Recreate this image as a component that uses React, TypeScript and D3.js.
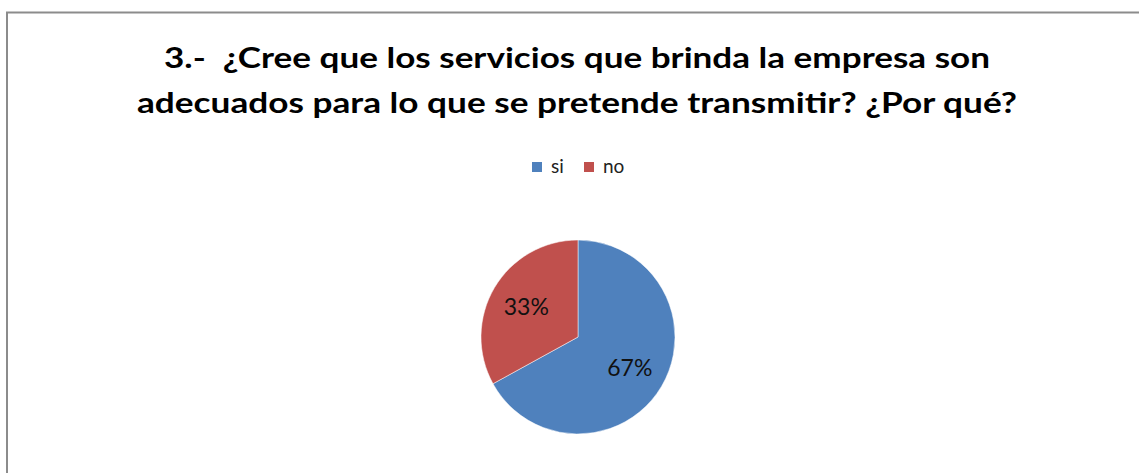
import React from "react";
import * as d3 from "d3";

// chart data
const categories = ["si", "no"];
const values = [67, 33];
const colors = ["#4F81BD", "#C0504D"];
const titleLines = [
  "3.-\u00a0 ¿Cree que los servicios que brinda la empresa son",
  "adecuados para lo que se pretende transmitir? ¿Por qué?",
];

const width = 1139;
const height = 473;

const App = () => {
  const cx = 578;
  const cy = 337;
  const radius = 97;

  const pie = d3.pie<number>().sort(null).value((d) => d);
  const arcs = pie(values);
  const arc = d3.arc<d3.PieArcDatum<number>>().innerRadius(0).outerRadius(radius);
  const labelArc = d3
    .arc<d3.PieArcDatum<number>>()
    .innerRadius(radius * 1.24)
    .outerRadius(0);

  // legend layout
  const legendX = d3.scaleOrdinal<string, number>().domain(categories).range([532, 584]);

  return (
    <svg
      width={width}
      height={height}
      style={{ position: "absolute", left: 0, top: 0, fontFamily: "Lato, 'Open Sans', sans-serif" }}
    >
      <rect width={width} height={height} fill="#fff" />
      <path d={`M7,${height} V12.5 H${width}`} fill="none" stroke="#8c8c8c" strokeWidth={2} />

      {titleLines.map((t, i) => (
        <text
          key={i}
          x={577}
          y={68 + i * 45}
          textAnchor="middle"
          fontSize={29}
          fontWeight="bold"
          fill="#000"
          textLength={i === 0 ? 826 : 880}
          lengthAdjust="spacingAndGlyphs"
        >
          {t}
        </text>
      ))}

      {categories.map((c, i) => (
        <g key={c} transform={`translate(${legendX(c)},162)`}>
          <rect width={10} height={10} fill={colors[i]} />
          <text x={19} y={11} fontSize={19} fill="#222">
            {c}
          </text>
        </g>
      ))}

      <g transform={`translate(${cx},${cy})`}>
        {arcs.map((a, i) => (
          <path key={i} d={arc(a) ?? ""} fill={colors[i]} stroke="#fff" strokeWidth={0.5} />
        ))}
        {arcs.map((a, i) => {
          const [lx, ly] = labelArc.centroid(a);
          return (
            <text
              key={i}
              x={lx}
              y={ly}
              dy="0.38em"
              textAnchor="middle"
              fontSize={23}
              fill="#111"
            >
              {values[i]}%
            </text>
          );
        })}
      </g>
    </svg>
  );
};

export default App;
